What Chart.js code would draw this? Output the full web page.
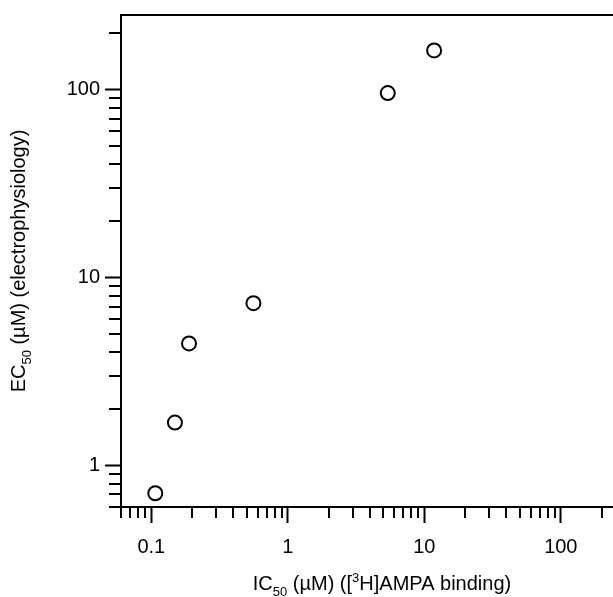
<!DOCTYPE html>
<html>
<head>
<meta charset="utf-8">
<script src="https://cdn.jsdelivr.net/npm/chart.js@4/dist/chart.umd.min.js"></script>
<style>
  html, body { margin: 0; padding: 0; background: #fff; overflow: hidden; }
  #wrap { width: 613px; height: 597px; overflow: hidden; }
  canvas { display: block; }
</style>
</head>
<body>
<div id="wrap"><canvas id="c" width="645" height="597" style="width:645px;height:597px"></canvas></div>
<script>
// ---- data ----
const ic50Values = [0.107, 0.149, 0.189, 0.56, 5.4, 11.8];    // IC50 (µM), [3H]AMPA binding
const ec50Values = [0.71, 1.69, 4.46, 7.3, 96, 162];          // EC50 (µM), electrophysiology

// ---- axes ----
const xRange = [0.06, 400];
const yRange = [0.6, 250];
const xMajorTicks = [0.1, 1, 10, 100];
const xTickLabels = ['0.1', '1', '10', '100'];
const yMajorTicks = [1, 10, 100];
const yTickLabels = ['1', '10', '100'];
const minorMultipliers = [2, 3, 4, 5, 6, 7, 8, 9];
const xDecades = [0.01, 0.1, 1, 10, 100];
const yDecades = [0.1, 1, 10, 100];

function minorTicks(decades, range) {
  const out = [];
  decades.forEach(d => minorMultipliers.forEach(m => {
    const v = +(d * m).toPrecision(6);
    if (v >= range[0] - 1e-9 && v <= range[1] + 1e-9) out.push(v);
  }));
  return out;
}
const xMinorTicks = minorTicks(xDecades, xRange);
const yMinorTicks = minorTicks(yDecades, yRange);

const FONT = "'Liberation Sans', Arial, Helvetica, sans-serif";

function labelFor(values, labels, v) {
  for (let i = 0; i < values.length; i++) {
    if (Math.abs(values[i] - v) / values[i] < 1e-6) return labels[i];
  }
  return '';
}

// draws minor tick marks through the chart's scales
const minorTickPlugin = {
  id: 'minorTicks',
  afterDraw(chart) {
    const ctx = chart.ctx;
    const { bottom, left } = chart.chartArea;
    const xs = chart.scales.x, ys = chart.scales.y;
    ctx.save();
    ctx.strokeStyle = '#000';
    ctx.lineWidth = 2;
    xMinorTicks.forEach(v => {
      const px = Math.round(xs.getPixelForValue(v));
      ctx.beginPath(); ctx.moveTo(px, bottom); ctx.lineTo(px, bottom + 11); ctx.stroke();
    });
    yMinorTicks.forEach(v => {
      const py = Math.round(ys.getPixelForValue(v));
      ctx.beginPath(); ctx.moveTo(left, py); ctx.lineTo(left - 12, py); ctx.stroke();
    });
    ctx.restore();
  }
};

// rich-text axis titles (subscript / superscript)
function drawRich(ctx, segs, size) {
  let w = 0;
  segs.forEach(s => {
    ctx.font = (s.t ? Math.round(size * 0.65) : size) + 'px ' + FONT;
    s.w = ctx.measureText(s.x).width; w += s.w;
  });
  let x = -w / 2;
  segs.forEach(s => {
    ctx.font = (s.t ? Math.round(size * 0.65) : size) + 'px ' + FONT;
    const dy = s.t === 'sub' ? 6 : (s.t === 'sup' ? -8 : 0);
    ctx.fillText(s.x, x, dy);
    x += s.w;
  });
}
const xTitleSegs = [{x: 'IC'}, {x: '50', t: 'sub'}, {x: ' (\u00B5M) (['}, {x: '3', t: 'sup'}, {x: 'H]AMPA binding)'}];
const yTitleSegs = [{x: 'EC'}, {x: '50', t: 'sub'}, {x: ' (\u00B5M) (electrophysiology)'}];

const titlePlugin = {
  id: 'axisTitles',
  afterDraw(chart) {
    const ctx = chart.ctx;
    const { left, right, top, bottom } = chart.chartArea;
    ctx.save();
    ctx.fillStyle = '#000';
    ctx.textBaseline = 'alphabetic';
    ctx.textAlign = 'left';
    ctx.translate((left + right) / 2, 590);
    drawRich(ctx, xTitleSegs, 20);
    ctx.restore();
    ctx.save();
    ctx.fillStyle = '#000';
    ctx.textBaseline = 'alphabetic';
    ctx.textAlign = 'left';
    ctx.translate(25, (top + bottom) / 2);
    ctx.rotate(-Math.PI / 2);
    drawRich(ctx, yTitleSegs, 20);
    ctx.restore();
  }
};

const points = ic50Values.map((v, i) => ({ x: v, y: ec50Values[i] }));

function zeroPad(s) { s.paddingLeft = 0; s.paddingRight = 0; s.paddingTop = 0; s.paddingBottom = 0; }

new Chart(document.getElementById('c'), {
  type: 'scatter',
  data: {
    datasets: [{
      data: points,
      pointStyle: 'circle',
      pointRadius: 7,
      pointHoverRadius: 7,
      borderWidth: 2,
      borderColor: '#000',
      backgroundColor: 'rgba(255,255,255,0)',
      clip: false
    }]
  },
  options: {
    responsive: false,
    maintainAspectRatio: false,
    animation: false,
    events: [],
    layout: { autoPadding: false, padding: { top: 15, right: 2, left: 0, bottom: 0 } },
    plugins: { legend: { display: false }, tooltip: { enabled: false } },
    scales: {
      x: {
        type: 'logarithmic',
        position: 'bottom',
        min: xRange[0], max: xRange[1],
        bounds: 'data',
        afterBuildTicks: s => { s.ticks = xMajorTicks.map(v => ({ value: v, major: true })); },
        afterFit: s => { s.height = 90; zeroPad(s); },
        grid: { drawOnChartArea: false, drawTicks: true, tickLength: 16, tickWidth: 2, tickColor: '#000' },
        border: { display: true, color: '#000', width: 2 },
        ticks: {
          autoSkip: false, maxRotation: 0, minRotation: 0, padding: 12,
          color: '#000', font: { family: FONT, size: 20 },
          callback: v => labelFor(xMajorTicks, xTickLabels, v)
        }
      },
      y: {
        type: 'logarithmic',
        position: 'left',
        min: yRange[0], max: yRange[1],
        bounds: 'data',
        afterBuildTicks: s => { s.ticks = yMajorTicks.map(v => ({ value: v, major: true })); },
        afterFit: s => { s.width = 121; zeroPad(s); },
        grid: { drawOnChartArea: false, drawTicks: true, tickLength: 16, tickWidth: 2, tickColor: '#000' },
        border: { display: true, color: '#000', width: 2 },
        ticks: {
          autoSkip: false, padding: 5,
          color: '#000', font: { family: FONT, size: 20 },
          callback: v => labelFor(yMajorTicks, yTickLabels, v)
        }
      },
      xTop: {
        type: 'linear',
        position: 'top',
        min: 0, max: 1,
        afterFit: s => { s.height = 0; zeroPad(s); },
        grid: { drawOnChartArea: false, drawTicks: false },
        border: { display: true, color: '#000', width: 2 },
        ticks: { display: false }
      }
    }
  },
  plugins: [minorTickPlugin, titlePlugin]
});
</script>
</body>
</html>
